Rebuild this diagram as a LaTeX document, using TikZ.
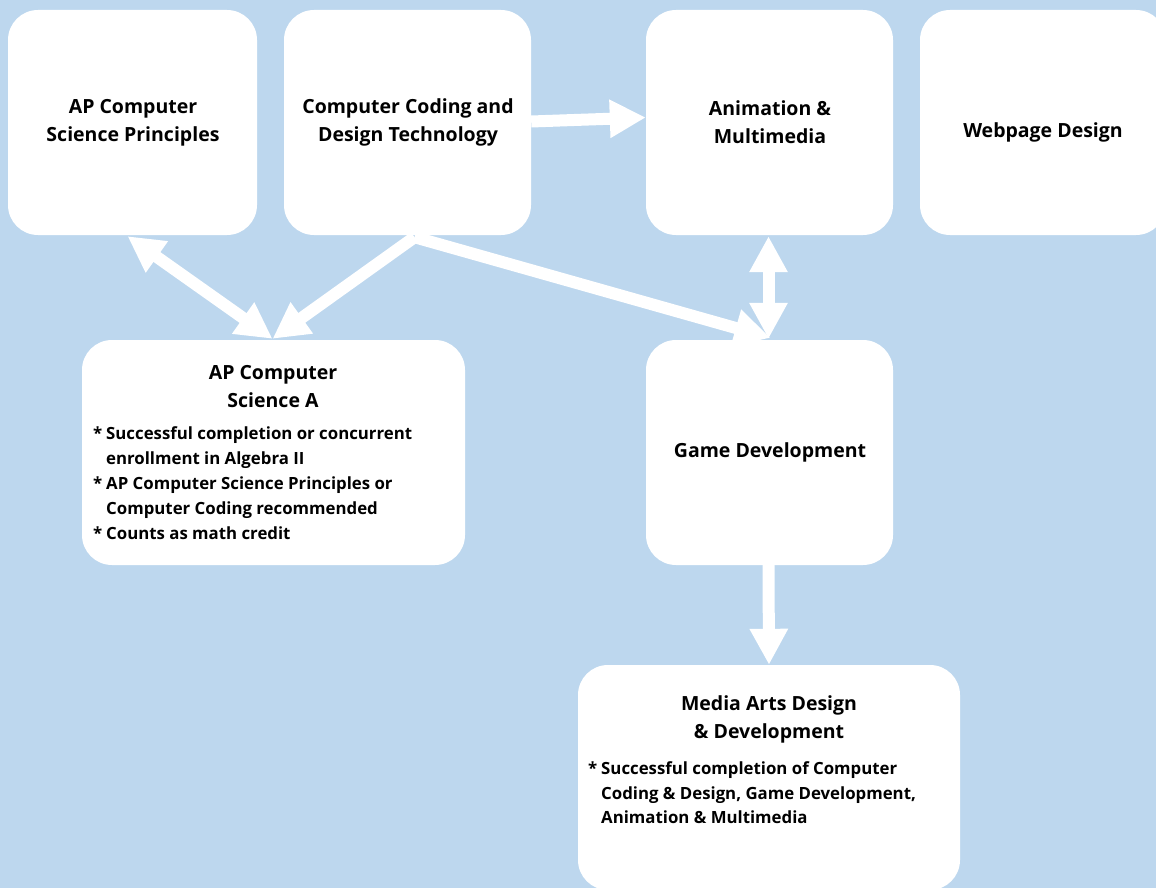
\documentclass[tikz,border=0pt]{standalone}
\usepackage{fontspec}
\setmainfont{Open Sans}
\usetikzlibrary{arrows.meta,calc}
\definecolor{bgblue}{HTML}{BDD7EE}
\tikzset{
  card/.style={fill=white, draw=none, rounded corners=30pt, minimum height=225pt, inner sep=0pt},
  ttl/.style={font=\bfseries\fontsize{19.5}{28}\selectfont, align=center, inner sep=0pt},
  bul/.style={font=\bfseries\fontsize{16.8}{25}\selectfont, anchor=base west, inner sep=0pt},
  conn/.style={draw=white, line width=12pt, -{Triangle[width=36pt,length=36pt]}},
  dconn/.style={draw=white, line width=12pt, {Triangle[width=36pt,length=36pt]}-{Triangle[width=36pt,length=36pt]}}
}
\begin{document}
\begin{tikzpicture}[x=1pt,y=-1pt]
\useasboundingbox (0,0) rectangle (1156,888);
\fill[bgblue] (0,0) rectangle (1156,888);
\clip (0,0) rectangle (1156,888);
% boxes
\node[card, minimum width=249pt] (csp) at (132.5,122.5) {};
\node[card, minimum width=247pt] (cod) at (407.5,122.5) {};
\node[card, minimum width=247pt] (ani) at (769.5,122.5) {};
\node[card, minimum width=246pt] (web) at (1043,122.5) {};
\node[card, minimum width=383pt] (csa) at (273.5,452.5) {};
\node[card, minimum width=247pt] (gam) at (769.5,452.5) {};
\node[card, minimum width=382pt] (med) at (769,777.5) {};
% titles
\node[ttl] (cspt) at (133,122.5) {AP Computer\\Science Principles};
\node[ttl] (codt) at (408,122.5) {Computer Coding and\\Design Technology};
\node[ttl] (anit) at (770,122.5) {Animation \&\\Multimedia};
\node[ttl] (webt) at (1043,132.5) {Webpage Design};
\node[ttl] (csat) at (273,386.5) {AP Computer\\Science A};
\node[ttl] (gamt) at (770,452.5) {Game Development};
\node[ttl] (medt) at (769,719.5) {Media Arts Design\\\& Development};
% bullets CSA
\node[bul] (b1s) at (93,439) {*};
\node[bul] (b1) at (106,439) {Successful completion or concurrent};
\node[bul] (b1b) at (106,464) {enrollment in Algebra II};
\node[bul] (b2s) at (93,489) {*};
\node[bul] (b2) at (106,489) {AP Computer Science Principles or};
\node[bul] (b2b) at (106,514) {Computer Coding recommended};
\node[bul] (b3s) at (93,539) {*};
\node[bul] (b3) at (106,539) {Counts as math credit};
% bullets Media
\node[bul] (m1s) at (588,774) {*};
\node[bul] (m1) at (601,774) {Successful completion of Computer};
\node[bul] (m1b) at (601,799) {Coding \& Design, Game Development,};
\node[bul] (m1c) at (601,823) {Animation \& Multimedia};
% connectors
\draw[conn] ($(cod.east)+(0,-1)$) -- ($(ani.west)+(0,-5)$);
\draw[dconn] ($(csp.south)+(-5,1)$) -- ($(csa.north)+(-1,-1)$);
\draw[conn] ($(cod.south)+(7,2)$) -- ($(csa.north)+(-1,-1)$);
\draw[conn] ($(cod.south)+(7,2)$) -- ($(gam.north)+(1,-2)$);
\draw[dconn] ($(ani.south)+(-1,1)$) -- ($(gam.north)+(-1,-1)$);
\draw[conn] ($(gam.south)+(-1,0)$) -- ($(med.north)+(0,0)$);
\end{tikzpicture}
\end{document}
